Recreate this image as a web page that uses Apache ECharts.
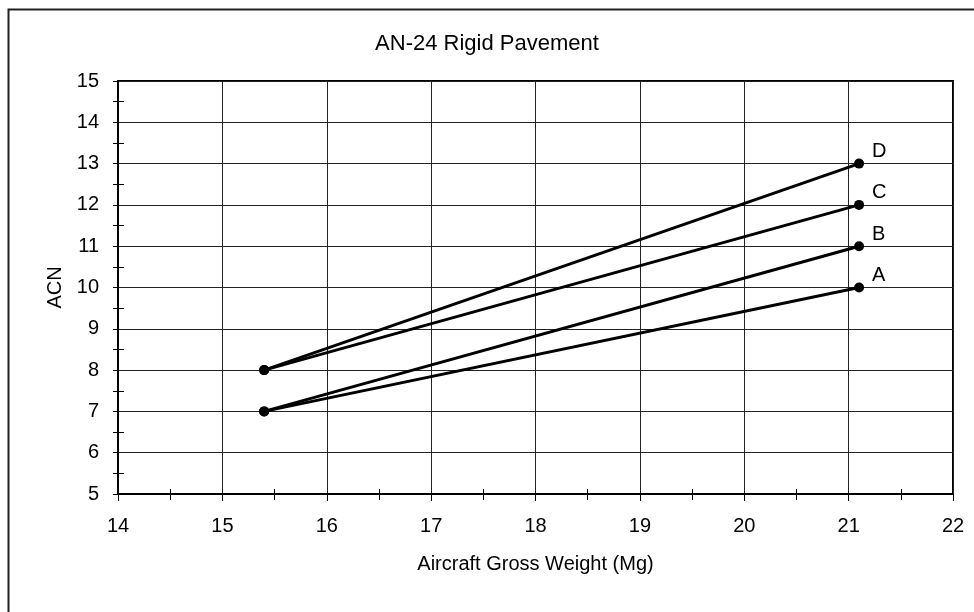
<!DOCTYPE html>
<html>
<head>
<meta charset="utf-8">
<script src="https://cdn.jsdelivr.net/npm/echarts@6/dist/echarts.min.js"></script>
<style>html,body{margin:0;padding:0;background:#fff}#c{width:974px;height:612px}</style>
</head>
<body>
<div id="c"></div>
<script>
const weights = [15.4, 21.1];
const seriesNames = ['A', 'B', 'C', 'D'];
const acnA = [7, 10];
const acnB = [7, 11];
const acnC = [8, 12];
const acnD = [8, 13];
const xTicks = [14, 15, 16, 17, 18, 19, 20, 21, 22];
const yTicks = [5, 6, 7, 8, 9, 10, 11, 12, 13, 14, 15];

const FONT = '"Liberation Sans", Arial, sans-serif';
const allVals = [acnA, acnB, acnC, acnD];

function mkSeries(name, vals) {
  return {
    type: 'line',
    name: name,
    xAxisIndex: 0,
    yAxisIndex: 0,
    data: vals.map((v, i) => ({
      value: [weights[i], v],
      label: {
        show: i === vals.length - 1,
        formatter: name,
        position: 'right',
        distance: 8,
        offset: [0, -12],
        color: '#000',
        fontSize: 20,
        fontFamily: FONT
      }
    })),
    symbol: 'circle',
    symbolSize: 10,
    itemStyle: { color: '#000' },
    lineStyle: { color: '#000', width: 3 },
    animation: false
  };
}

const chart = echarts.init(document.getElementById('c'), null, { renderer: 'canvas' });
chart.setOption({
  backgroundColor: '#fff',
  animation: false,
  title: {
    text: 'AN-24 Rigid Pavement',
    left: 'center',
    top: 28,
    textStyle: { fontFamily: FONT, fontSize: 22, fontWeight: 'normal', color: '#000' }
  },
  graphic: [{
    type: 'rect',
    left: 6, top: 7,
    shape: { width: 1200, height: 800 },
    style: { fill: 'none', stroke: '#222', lineWidth: 2 },
    silent: true
  }],
  grid: {
    left: 118, top: 81, right: 21, bottom: 118,
    show: true, borderColor: '#000', borderWidth: 2
  },
  xAxis: [{
    type: 'value',
    min: xTicks[0], max: xTicks[xTicks.length - 1], interval: 1,
    position: 'bottom',
    name: 'Aircraft Gross Weight (Mg)',
    nameLocation: 'middle',
    nameGap: 60,
    nameTextStyle: { fontFamily: FONT, fontSize: 20, color: '#000' },
    axisLine: { show: true, lineStyle: { color: '#000', width: 2 } },
    axisTick: { show: true, length: 7, lineStyle: { color: '#000', width: 1 } },
    minorTick: { show: true, splitNumber: 2, length: 6, lineStyle: { color: '#000', width: 1 } },
    axisLabel: { margin: 22, fontFamily: FONT, fontSize: 20, color: '#000' },
    splitLine: { show: true, lineStyle: { color: '#222', width: 1 } }
  }, {
    type: 'value',
    min: xTicks[0], max: xTicks[xTicks.length - 1], interval: 1,
    position: 'bottom',
    axisLine: { show: false },
    axisTick: { show: false, inside: true },
    minorTick: { show: true, splitNumber: 2, length: 5, lineStyle: { color: '#000', width: 1 } },
    axisLabel: { show: false },
    splitLine: { show: false }
  }],
  yAxis: [{
    type: 'value',
    min: yTicks[0], max: yTicks[yTicks.length - 1], interval: 1,
    position: 'left',
    name: 'ACN',
    nameLocation: 'middle',
    nameGap: 52,
    nameTextStyle: { fontFamily: FONT, fontSize: 20, color: '#000' },
    axisLine: { show: true, lineStyle: { color: '#000', width: 2 } },
    axisTick: { show: true, length: 5, lineStyle: { color: '#000', width: 1 } },
    minorTick: { show: true, splitNumber: 2, length: 5, lineStyle: { color: '#000', width: 1 } },
    axisLabel: { margin: 19, fontFamily: FONT, fontSize: 20, color: '#000' },
    splitLine: { show: true, lineStyle: { color: '#222', width: 1 } }
  }, {
    type: 'value',
    min: yTicks[0], max: yTicks[yTicks.length - 1], interval: 1,
    position: 'left',
    axisLine: { show: false },
    axisTick: { show: false, inside: true },
    minorTick: { show: true, splitNumber: 2, length: 6, lineStyle: { color: '#000', width: 1 } },
    axisLabel: { show: false },
    splitLine: { show: false }
  }],
  series: seriesNames.map((n, i) => mkSeries(n, allVals[i]))
});
</script>
</body>
</html>
